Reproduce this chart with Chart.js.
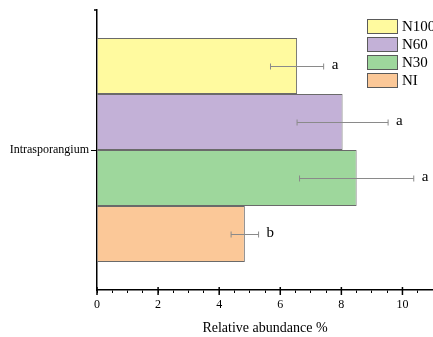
<!DOCTYPE html>
<html>
<head>
<meta charset="utf-8">
<script src="https://cdn.jsdelivr.net/npm/chart.js@4"></script>
<style>
  html, body { margin: 0; padding: 0; background: #fff; }
  #wrap { width: 433px; height: 337px; }
</style>
</head>
<body>
<div id="wrap"><canvas id="chart" width="433" height="337"></canvas></div>
<script>
// data
const categories = ["Intrasporangium"];
const seriesNames = ["N100", "N60", "N30", "NI"];
const values = [6.55, 8.04, 8.5, 4.84];
const errors = [0.87, 1.49, 1.87, 0.45];
const letters = ["a", "a", "a", "b"];
const xTicks = [0, 2, 4, 6, 8, 10];
const colors = ["#fffa9f", "#c3b1d7", "#9ed79c", "#fbc898"];

const serif = "'Liberation Serif', 'Times New Roman', serif";

// error bars + significance letters
const errorBars = {
  id: "errorBars",
  afterDatasetsDraw(chart) {
    const ctx = chart.ctx;
    const x = chart.scales.x;
    ctx.save();
    ctx.strokeStyle = "#8a8a8a";
    ctx.lineWidth = 1;
    ctx.fillStyle = "#000";
    ctx.font = "15px " + serif;
    ctx.textBaseline = "middle";
    chart.data.datasets.forEach((ds, i) => {
      const bar = chart.getDatasetMeta(i).data[0];
      const y = Math.round(bar.y) + 0.5;
      const x0 = x.getPixelForValue(values[i] - errors[i]);
      const x1 = x.getPixelForValue(values[i] + errors[i]);
      ctx.beginPath();
      ctx.moveTo(x0, y); ctx.lineTo(x1, y);
      ctx.moveTo(x0, y - 3); ctx.lineTo(x0, y + 3);
      ctx.moveTo(x1, y - 3); ctx.lineTo(x1, y + 3);
      ctx.stroke();
      ctx.fillText(letters[i], x1 + 8, y - 1);
    });
    ctx.restore();
  }
};

// legend boxes in the top right corner
const boxLegend = {
  id: "boxLegend",
  afterDraw(chart) {
    const ctx = chart.ctx;
    ctx.save();
    ctx.font = "15px " + serif;
    ctx.textBaseline = "middle";
    seriesNames.forEach((name, i) => {
      const top = 19 + i * 18;
      ctx.fillStyle = colors[i];
      ctx.fillRect(367, top, 31, 15);
      ctx.strokeStyle = "#5a5a5a";
      ctx.lineWidth = 1;
      ctx.strokeRect(367.5, top + 0.5, 30, 14);
      ctx.fillStyle = "#000";
      ctx.fillText(name, 402, top + 8);
    });
    ctx.restore();
  }
};

// longer ticks at labelled values, small one at top of y axis
const majorTicks = {
  id: "majorTicks",
  afterDraw(chart) {
    const ctx = chart.ctx;
    const x = chart.scales.x;
    const area = chart.chartArea;
    ctx.save();
    ctx.strokeStyle = "#000";
    ctx.lineWidth = 1.5;
    ctx.beginPath();
    xTicks.forEach(v => {
      const px = x.getPixelForValue(v);
      ctx.moveTo(px, area.bottom - 3);
      ctx.lineTo(px, area.bottom + 5);
    });
    ctx.moveTo(area.left - 3, area.top);
    ctx.lineTo(area.left, area.top);
    ctx.stroke();
    ctx.restore();
  }
};

new Chart(document.getElementById("chart"), {
  type: "bar",
  data: {
    labels: categories,
    datasets: seriesNames.map((name, i) => ({
      label: name,
      data: [values[i]],
      backgroundColor: colors[i],
      borderColor: "#6a6a6a",
      borderWidth: 1,
      categoryPercentage: 0.8,
      barPercentage: 1.0
    }))
  },
  options: {
    indexAxis: "y",
    responsive: false,
    animation: false,
    layout: { padding: { top: 10, right: 0, left: 0, bottom: 0 } },
    plugins: { legend: { display: false }, tooltip: { enabled: false } },
    scales: {
      x: {
        type: "linear",
        min: 0,
        max: 11,
        afterBuildTicks(scale) {
          const t = [];
          for (let v = 0; v <= 11; v += 0.5) t.push({ value: v });
          scale.ticks = t;
        },
        afterFit(scale) {
          scale.height = 47;
          scale.paddingLeft = 0;
          scale.paddingRight = 0;
        },
        border: { color: "#000", width: 1.5 },
        grid: { drawOnChartArea: false, color: "#000", tickLength: 3, lineWidth: 1 },
        ticks: {
          autoSkip: false,
          maxRotation: 0,
          color: "#000",
          padding: 5,
          font: { family: serif, size: 12 },
          callback: v => (xTicks.includes(v) ? String(v) : "")
        },
        title: {
          display: true,
          text: "Relative abundance %",
          color: "#000",
          font: { family: serif, size: 14 },
          padding: { top: 6, bottom: 0 }
        }
      },
      y: {
        afterFit(scale) { scale.width = 97; },
        border: { color: "#000", width: 1.5 },
        grid: { drawOnChartArea: false, offset: false, color: "#000", tickLength: 6 },
        ticks: {
          color: "#000",
          padding: 2,
          font: { family: serif, size: 12 }
        }
      }
    }
  },
  plugins: [errorBars, boxLegend, majorTicks]
});
</script>
</body>
</html>
